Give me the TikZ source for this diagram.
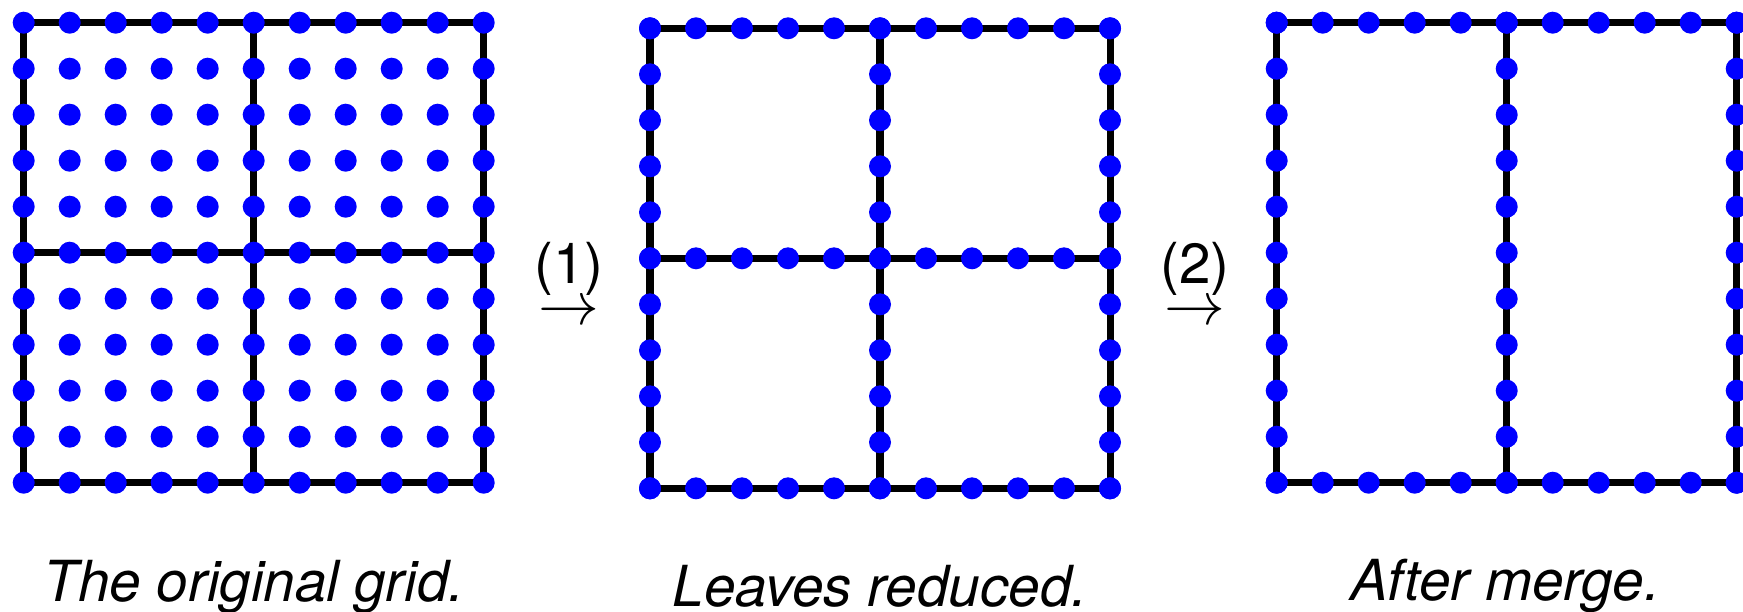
\documentclass[tikz,border=0pt]{standalone}
\usepackage{fontspec}
\setmainfont{TeX Gyre Heros}
\usepackage{tikz}
\usetikzlibrary{positioning}
\definecolor{dotBlue}{RGB}{0,0,255}

\begin{document}
\begin{tikzpicture}[
    gridline/.style={line width=2pt, black},
    vertex/.style={fill=dotBlue},
    caption/.style={font=\fontsize{16.1}{19}\selectfont\itshape, anchor=base, inner sep=0pt},
    steplabel/.style={font=\fontsize{16.1}{19}\selectfont, anchor=base, inner sep=0pt},
    steparrow/.style={steplabel, text height=0.2cm, text depth=0pt}
]
\useasboundingbox (0,0) rectangle (17.43,6.11);

% original grid: all points
\begin{scope}[shift={(0.237,1.283)}, x=0.46cm, y=0.46cm]
  \draw[gridline] (0,0) rectangle (10,10);
  \draw[gridline] (5,0) -- (5,10) (0,5) -- (10,5);
  \foreach \i in {0,...,10}
    \foreach \j in {0,...,10}
      \fill[vertex] (\i,\j) circle[radius=0.11cm];
\end{scope}

% leaves reduced: points on the cross and border
\begin{scope}[shift={(6.50,1.227)}, x=0.46cm, y=0.46cm]
  \draw[gridline] (0,0) rectangle (10,10);
  \draw[gridline] (5,0) -- (5,10) (0,5) -- (10,5);
  \foreach \i in {0,...,10}
    \foreach \j in {0,5,10} {
      \fill[vertex] (\i,\j) circle[radius=0.11cm];
      \fill[vertex] (\j,\i) circle[radius=0.11cm];
    }
\end{scope}

% after merge: border and middle column
\begin{scope}[shift={(12.767,1.283)}, x=0.46cm, y=0.46cm]
  \draw[gridline] (0,0) rectangle (10,10);
  \draw[gridline] (5,0) -- (5,10);
  \foreach \i in {0,...,10} {
    \foreach \j in {0,5,10}
      \fill[vertex] (\j,\i) circle[radius=0.11cm];
    \foreach \j in {0,10}
      \fill[vertex] (\i,\j) circle[radius=0.11cm];
  }
\end{scope}

\node[steplabel] (lblOne) at (5.69,3.28) {(1)};
\node[steparrow] (arrOne) at (5.69,2.87) {$\rightarrow$};
\node[steplabel] (lblTwo) at (11.95,3.28) {(2)};
\node[steparrow] (arrTwo) at (11.95,2.87) {$\rightarrow$};

\node[caption] (capOrig) at (2.54,0.093) {The original grid.};
\node[caption, text depth=0pt] (capLeaves) at (8.80,0.043) {Leaves reduced.};
\node[caption] (capMerge) at (15.05,0.11) {After merge.};
\end{tikzpicture}
\end{document}
